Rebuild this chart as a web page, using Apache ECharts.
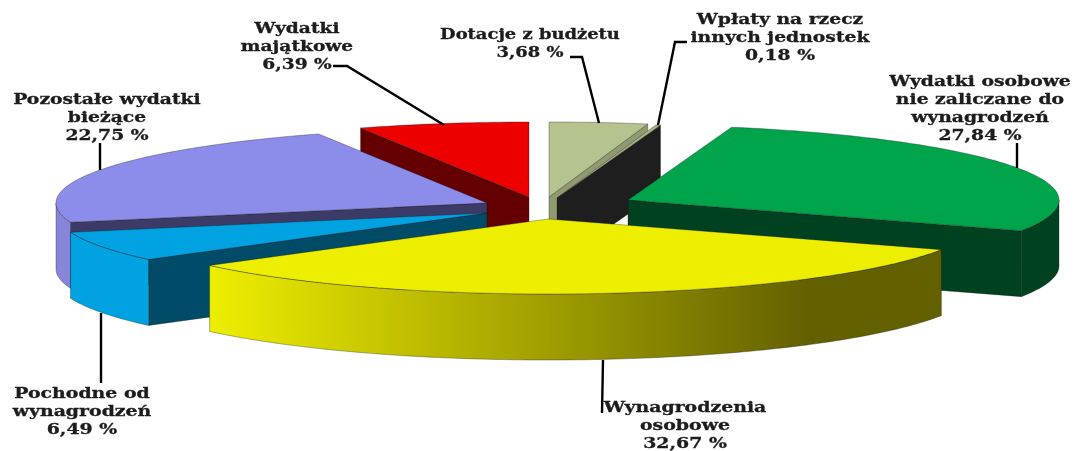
<!DOCTYPE html>
<html>
<head>
<meta charset="utf-8">
<style>
html, body { margin: 0; padding: 0; background: #fff; }
#chart { width: 1076px; height: 451px; }
</style>
<script src="https://cdn.jsdelivr.net/npm/echarts@6/dist/echarts.min.js"></script>
</head>
<body>
<div id="chart"></div>
<script>
// clockwise from twelve o'clock
const categories = [
    'Dotacje z budżetu',
    'Wpłaty na rzecz\ninnych jednostek',
    'Wydatki osobowe\nnie zaliczane do\nwynagrodzeń',
    'Wynagrodzenia\nosobowe',
    'Pochodne od\nwynagrodzeń',
    'Pozostałe wydatki\nbieżące',
    'Wydatki\nmajątkowe'
];
const values = [3.68, 0.18, 27.84, 32.67, 6.49, 22.75, 6.39];

// pie shape
const RX = 431, RY = 75, DEPTH = 66;
const apexes = [[549, 197], [557, 198], [628, 200], [548, 219], [487, 213], [487, 203], [529, 197]];
const paintOrder = [1, 2, 3, 7, 6, 5, 4];
const topColors = ['#b5c48f', '#a8b585', '#00a44a', '#eeee00', '#00a2e2', '#8c8cea', '#ee0000'];
const endWallColors = ['#8f9a70', '#1e1e1e', '#004220', '#606000', '#004b68', '#3c3a66', '#640000'];
const outerColors = ['#8f9a70', '#1e1e1e', '#004220', null, '#00a2e2', '#8785da', '#640000'];
const yellowWall = {
    type: 'linear', x: 210, y: 0, x2: 810, y2: 0, global: true,
    colorStops: [{ offset: 0, color: '#eeee00' }, { offset: 1, color: '#636000' }]
};

// label block centres, horizontal stretch and leader lines
const labelCenters = [[530, 44], [780, 38], [980, 109], [685, 426], [82, 412], [107, 118], [297, 47]];
const labelStretch = [1.28, 1.34, 1.34, 1.35, 1.35, 1.34, 1.33];
const leaders = [
    [[570, 57], [582, 57], [599, 123]],
    [[687, 42], [675, 42], [658, 125]],
    [[1017, 143], [1017, 168]],
    [[602, 413], [603, 360]],
    [[101, 383], [101, 313]],
    [[100, 143], [100, 170]],
    [[333, 66], [347, 66], [444, 125]]
];

const total = values.reduce((a, b) => a + b, 0);
const starts = [];
values.reduce((sum, v, i) => { starts[i] = sum / total * 360; return sum + v; }, 0);

function rimPoint(apex, deg, drop) {
    const a = deg * Math.PI / 180;
    return [apex[0] + RX * Math.sin(a), apex[1] - RY * Math.cos(a) + drop];
}

function arcPoints(apex, from, to, drop) {
    const pts = [];
    const n = Math.max(2, Math.ceil(Math.abs(to - from)));
    for (let k = 0; k <= n; k++) {
        pts.push(rimPoint(apex, from + (to - from) * k / n, drop));
    }
    return pts;
}

function poly(points, fill, z2) {
    return {
        type: 'polygon',
        z2: z2,
        shape: { points: points },
        style: { fill: fill, stroke: 'rgba(20,20,20,0.55)', lineWidth: 0.6, lineJoin: 'round' }
    };
}

function wall(apex, deg, fill, z2) {
    const r = rimPoint(apex, deg, 0);
    return poly([apex, r, [r[0], r[1] + DEPTH], [apex[0], apex[1] + DEPTH]], fill, z2);
}

function renderSlice(params) {
    const i = params.dataIndex;
    const apex = apexes[i];
    const start = starts[i];
    const end = start + values[i] / total * 360;
    const z = paintOrder[i] * 10;
    const children = [];

    // a cut face shows when it turns towards the viewer
    if (end < 180) children.push(wall(apex, end, endWallColors[i], z));
    if (start > 180) children.push(wall(apex, start, endWallColors[i], z));

    const from = Math.max(start, 90), to = Math.min(end, 270);
    if (to > from) {
        const outer = arcPoints(apex, from, to, 0).concat(arcPoints(apex, to, from, DEPTH));
        children.push(poly(outer, outerColors[i] || yellowWall, z + 1));
    }

    children.push(poly([apex].concat(arcPoints(apex, start, end, 0)), topColors[i], z + 2));
    return { type: 'group', children: children };
}

function renderLabel(params) {
    const i = params.dataIndex;
    const text = categories[i] + '\n' + values[i].toFixed(2).replace('.', ',') + ' %';
    return {
        type: 'group',
        children: [
            {
                type: 'polyline',
                z2: 200,
                shape: { points: leaders[i] },
                style: { fill: null, stroke: '#000', lineWidth: 2.4 }
            },
            {
                type: 'text',
                z2: 210,
                x: labelCenters[i][0],
                y: labelCenters[i][1],
                scaleX: labelStretch[i],
                style: {
                    text: text,
                    x: 0,
                    y: 0,
                    align: 'center',
                    verticalAlign: 'middle',
                    font: 'bold 14px "DejaVu Serif"',
                    lineHeight: 18,
                    fill: '#1c1c1c',
                    stroke: '#1c1c1c',
                    lineWidth: 0.3
                }
            }
        ]
    };
}

const chart = echarts.init(document.getElementById('chart'), null, { renderer: 'canvas' });
chart.setOption({
    animation: false,
    backgroundColor: '#fff',
    series: [
        { type: 'custom', coordinateSystem: 'none', silent: true, clip: false, z: 2, data: values, renderItem: renderSlice },
        { type: 'custom', coordinateSystem: 'none', silent: true, clip: false, z: 3, data: values, renderItem: renderLabel }
    ]
});
</script>
</body>
</html>
